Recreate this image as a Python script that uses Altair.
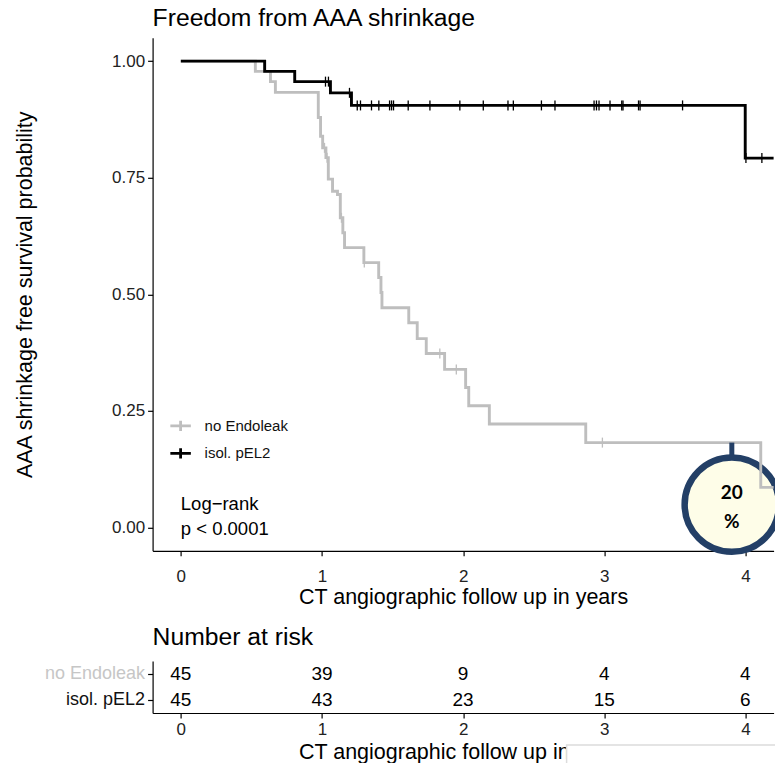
import altair as alt
import pandas as pd

FONT = "Liberation Sans"
GROUPS = ["no Endoleak", "isol. pEL2"]
COLORS = ["#bebebe", "#000000"]

# Kaplan-Meier step curves (time in years, survival probability)
ne_time = [0, 0.528, 0.635, 0.67, 0.974, 0.99, 1.005, 1.028, 1.045, 1.075, 1.11, 1.13,
           1.148, 1.16, 1.297, 1.402, 1.418, 1.425, 1.615, 1.675, 1.739, 1.869, 2.018,
           2.04, 2.186, 2.869, 4.109, 4.2]
ne_surv = [1.0, 0.978, 0.956, 0.933, 0.879, 0.839, 0.814, 0.793, 0.747, 0.721, 0.714, 0.664,
           0.632, 0.600, 0.568, 0.536, 0.504, 0.471, 0.439, 0.405, 0.373, 0.339, 0.300,
           0.261, 0.222, 0.182, 0.086, 0.086]
pel_time = [0, 0.594, 0.807, 1.06, 1.209, 3.999, 4.2]
pel_surv = [1.0, 0.978, 0.956, 0.932, 0.905, 0.792, 0.792]

# censoring times
ne_cens = [1.018, 1.036, 1.138, 1.30, 1.835, 1.952, 2.987]
pel_cens = [1.025, 1.046, 1.195, 1.25, 1.273, 1.351, 1.403, 1.479, 1.493, 1.507, 1.611,
            1.765, 1.977, 2.143, 2.318, 2.356, 2.555, 2.651, 2.928, 2.945, 2.963, 3.041,
            3.124, 3.133, 3.243, 3.254, 3.555, 4.004, 4.117]

# number at risk table
risk_times = [0, 1, 2, 3, 4]
risk_ne = [45, 39, 9, 4, 4]
risk_pel = [45, 43, 23, 15, 6]

x_ticks = [0, 1, 2, 3, 4]
y_ticks = [0, 0.25, 0.5, 0.75, 1.0]


def step_value(times, surv, t):
    v = surv[0]
    for tt, ss in zip(times, surv):
        if tt <= t:
            v = ss
    return v


curve_df = pd.concat([
    pd.DataFrame({"t": ne_time, "s": ne_surv, "group": GROUPS[0]}),
    pd.DataFrame({"t": pel_time, "s": pel_surv, "group": GROUPS[1]}),
])
cens_ne_df = pd.DataFrame({"t": ne_cens, "s": [step_value(ne_time, ne_surv, t) for t in ne_cens]})
cens_pel_df = pd.DataFrame({"t": pel_cens, "s": [step_value(pel_time, pel_surv, t) for t in pel_cens]})

risk_df = pd.concat([
    pd.DataFrame({"t": risk_times, "n": risk_ne, "group": GROUPS[0]}),
    pd.DataFrame({"t": risk_times, "n": risk_pel, "group": GROUPS[1]}),
])

xs = alt.Scale(domain=[-0.2, 4.2], nice=False, zero=False)
ys = alt.Scale(domain=[-0.05, 1.05], nice=False, zero=False)
cs = alt.Scale(domain=GROUPS, range=COLORS)

axis_common = dict(
    grid=False, domainColor="black", domainWidth=1.2, tickColor="black", tickWidth=1.2,
    tickSize=5, labelFont=FONT, labelColor="#222222", titleFont=FONT,
    titleFontWeight="normal", titleColor="black",
)

x_axis = alt.Axis(values=x_ticks, format="d", title="CT angiographic follow up in years",
                  labelFontSize=17, titleFontSize=21.5, labelPadding=12.5, titlePadding=2.5,
                  **axis_common)
y_axis = alt.Axis(values=y_ticks, format=".2f", title="AAA shrinkage free survival probability",
                  labelFontSize=17, titleFontSize=21.5, labelPadding=3, titlePadding=75.1,
                  **axis_common)

legend = alt.Legend(
    title=None, orient="none", legendX=16, legendY=376,
    symbolType="M-1,0H1M0,-0.5V0.5", symbolSize=420, symbolStrokeWidth=2.8,
    labelFont=FONT, labelFontSize=15, labelColor="#111111", labelOffset=12, rowPadding=4.5,
)

X = alt.X("t:Q", scale=xs, axis=x_axis)
Y = alt.Y("s:Q", scale=ys, axis=y_axis)

# annotation bubble
bubble_df = pd.DataFrame({"t": [3.904], "s": [0.049]})
stem_df = pd.DataFrame({"t": [3.904], "s": [0.182], "s2": [0.154]})
pct_df = pd.DataFrame({"t": [3.904, 3.904], "s": [0.074, 0.012], "label": ["20", "%"]})
logrank_df = pd.DataFrame({"t": [0, 0], "s": [0.05, -0.004], "label": ["Log\u2212rank", "p < 0.0001"]})

bubble = alt.Chart(bubble_df).mark_point(
    shape="circle", size=8900, filled=True, fill="#fefde8", stroke="#233f66",
    strokeWidth=6.5, opacity=1, fillOpacity=1, strokeOpacity=1,
).encode(x=alt.X("t:Q", scale=xs), y=alt.Y("s:Q", scale=ys))

gray_line = alt.Chart(curve_df).transform_filter(alt.datum.group == GROUPS[0]).mark_line(
    interpolate="step-after", strokeWidth=2.9
).encode(x=X, y=Y, color=alt.Color("group:N", scale=cs, legend=legend))

black_line = alt.Chart(curve_df).transform_filter(alt.datum.group == GROUPS[1]).mark_line(
    interpolate="step-after", strokeWidth=2.9
).encode(x=X, y=Y, color=alt.Color("group:N", scale=cs, legend=legend))

gray_cens = alt.Chart(cens_ne_df).mark_tick(
    orient="vertical", size=10, thickness=1.3, color=COLORS[0], opacity=1
).encode(x=alt.X("t:Q", scale=xs), y=alt.Y("s:Q", scale=ys))

black_cens = alt.Chart(cens_pel_df).mark_tick(
    orient="vertical", size=10, thickness=1.3, color=COLORS[1], opacity=1
).encode(x=alt.X("t:Q", scale=xs), y=alt.Y("s:Q", scale=ys))

stem = alt.Chart(stem_df).mark_rule(strokeWidth=5, color="#233f66").encode(
    x=alt.X("t:Q", scale=xs), y=alt.Y("s:Q", scale=ys), y2="s2:Q"
)

pct_text = alt.Chart(pct_df).mark_text(
    font="Lato", fontSize=19, fontWeight="bold", color="black", align="center", baseline="middle"
).encode(x=alt.X("t:Q", scale=xs), y=alt.Y("s:Q", scale=ys), text="label:N")

logrank_text = alt.Chart(logrank_df).mark_text(
    font=FONT, fontSize=18.5, color="black", align="left", baseline="middle"
).encode(x=alt.X("t:Q", scale=xs), y=alt.Y("s:Q", scale=ys), text="label:N")

main = alt.layer(
    bubble, gray_line, black_line, gray_cens, black_cens, stem, pct_text, logrank_text
).properties(
    width=621, height=513,
    title=alt.TitleParams("Freedom from AAA shrinkage", anchor="start", frame="group",
                          font=FONT, fontSize=24.7, fontWeight="normal", color="black", offset=7.3),
)

# risk table
tx_axis = alt.Axis(values=x_ticks, format="d", title="CT angiographic follow up in years",
                   labelFontSize=17, titleFontSize=21.5, labelPadding=4, titlePadding=3.7,
                   **axis_common)
ty_axis = alt.Axis(
    title=None, grid=False, domainColor="black", domainWidth=1.2, tickColor="black",
    tickWidth=1.2, tickSize=5, labelFont=FONT, labelFontSize=18, labelPadding=3,
    labelColor=alt.condition(alt.datum.value == GROUPS[0], alt.value("#c6c6c6"), alt.value("#111111")),
)

risk_text = alt.Chart(risk_df).mark_text(
    font=FONT, fontSize=19, color="black", align="center", baseline="middle"
).encode(
    x=alt.X("t:Q", scale=xs, axis=tx_axis),
    y=alt.Y("group:N", scale=alt.Scale(domain=GROUPS, paddingInner=0, paddingOuter=0), axis=ty_axis),
    text="n:Q",
)

cover = alt.Chart(pd.DataFrame({"a": [0]})).mark_rect(
    fill="white", stroke="#dcdcdc", strokeWidth=1.5
).encode(x=alt.value(414), x2=alt.value(627), y=alt.value(84), y2=alt.value(112))

table = alt.layer(risk_text, cover).properties(
    width=621, height=52,
    title=alt.TitleParams("Number at risk", anchor="start", frame="group",
                          font=FONT, fontSize=24.7, fontWeight="normal", color="black", offset=11.1),
)

chart = alt.vconcat(main, table, spacing=16.2).properties(
    padding={"left": 5.6, "top": -2.2, "right": -17.5, "bottom": 0}, background="white"
).configure_view(stroke=None)

chart.save("out.html", embed_options={"renderer": "svg", "actions": False})
